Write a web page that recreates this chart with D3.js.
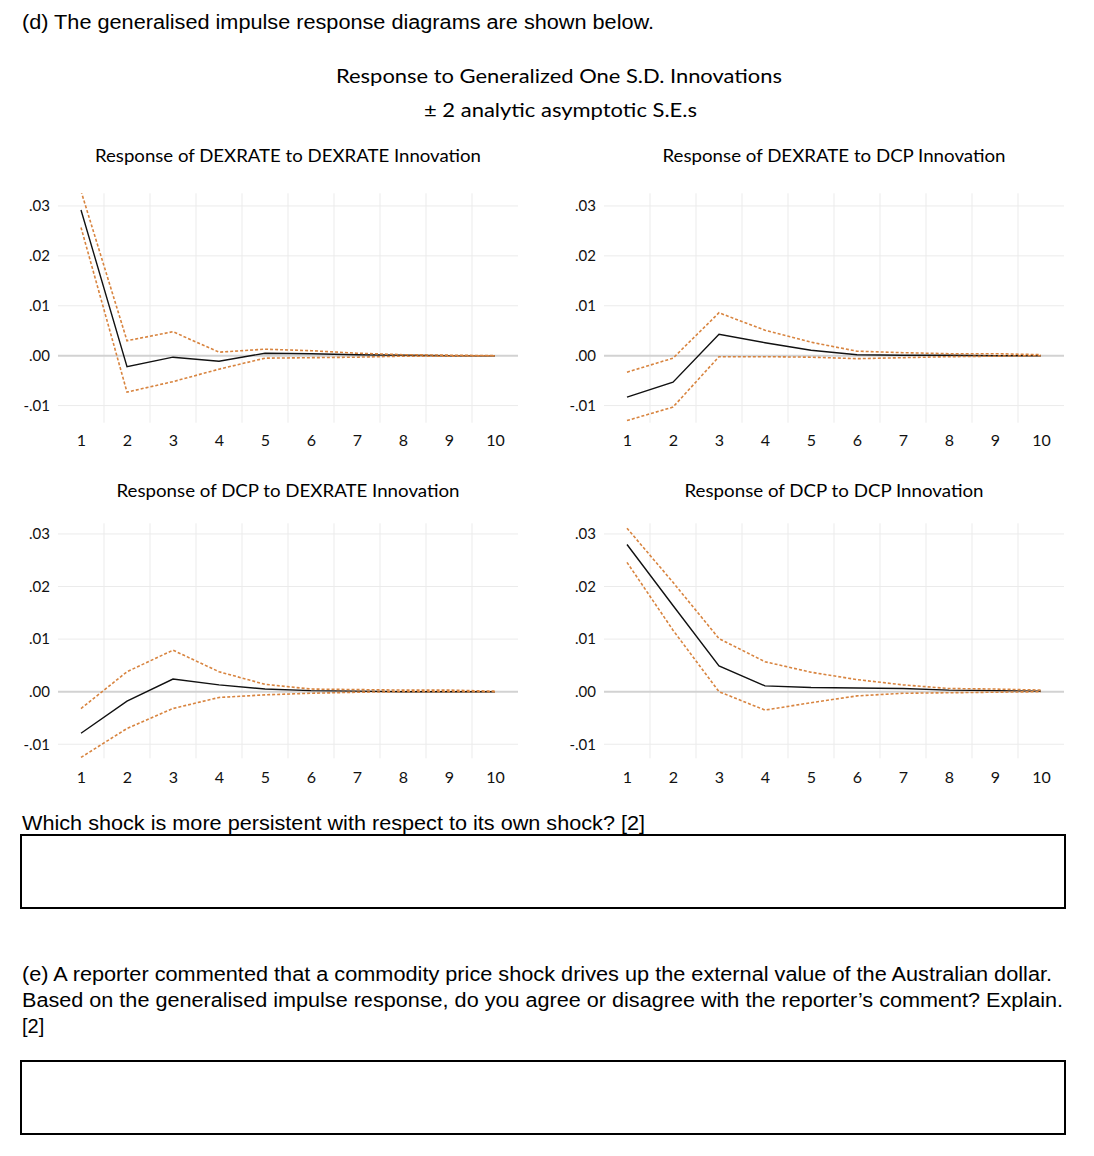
<!DOCTYPE html>
<html><head><meta charset="utf-8">
<script src="https://cdn.jsdelivr.net/npm/d3@7"></script>
<style>body{margin:0;background:#fff}svg{display:block}</style>
</head><body><svg id="c" width="1094" height="1156"></svg>
<script>
// ---------- data ----------
const horizons = [1,2,3,4,5,6,7,8,9,10];
const yTickValues = [-0.01, 0, 0.01, 0.02, 0.03];
const yTickLabels = ["-.01", ".00", ".01", ".02", ".03"];
const panelTitles = [
  "Response of DEXRATE to DEXRATE Innovation",
  "Response of DEXRATE to DCP Innovation",
  "Response of DCP to DEXRATE Innovation",
  "Response of DCP to DCP Innovation"
];
const mainTitle = "Response to Generalized One S.D. Innovations";
const subTitle = "\u00B1 2 analytic asymptotic S.E.s";

const exExResp  = [0.0292,-0.0022,-0.0003,-0.0011,0.0005,0.0004,0.0002,0.0001,0.0000,0.0000];
const exExUpper = [0.0330,0.0030,0.0048,0.0007,0.0013,0.0010,0.0005,0.0002,0.0001,0.0000];
const exExLower = [0.0257,-0.0073,-0.0052,-0.0027,-0.0005,-0.0004,-0.0003,-0.0001,-0.0001,0.0000];

const exCpResp  = [-0.0083,-0.0053,0.0043,0.0026,0.0011,0.0002,0.0001,0.0001,0.0000,0.0000];
const exCpUpper = [-0.0033,-0.0005,0.0086,0.0051,0.0027,0.0009,0.0006,0.0004,0.0004,0.0002];
const exCpLower = [-0.0130,-0.0103,-0.0002,-0.0002,-0.0003,-0.0006,-0.0004,-0.0002,-0.0001,0.0000];

const cpExResp  = [-0.0079,-0.0018,0.0024,0.0013,0.0005,0.0002,0.0001,0.0000,0.0000,0.0000];
const cpExUpper = [-0.0032,0.0038,0.0079,0.0038,0.0014,0.0005,0.0004,0.0003,0.0003,0.0001];
const cpExLower = [-0.0125,-0.0070,-0.0032,-0.0011,-0.0006,-0.0003,-0.0001,0.0000,0.0000,0.0000];

const cpCpResp  = [0.0280,0.0164,0.0049,0.0011,0.0008,0.0007,0.0006,0.0003,0.0002,0.0001];
const cpCpUpper = [0.0311,0.0208,0.0101,0.0057,0.0037,0.0023,0.0013,0.0006,0.0005,0.0003];
const cpCpLower = [0.0246,0.0117,0.0000,-0.0035,-0.0021,-0.0008,-0.0003,-0.0002,-0.0001,0.0000];

const questionD = "(d) The generalised impulse response diagrams are shown below.";
const questionPersist = "Which shock is more persistent with respect to its own shock? [2]";
const questionE = [
  "(e) A reporter commented that a commodity price shock drives up the external value of the Australian dollar.",
  "Based on the generalised impulse response, do you agree or disagree with the reporter\u2019s comment? Explain.",
  "[2]"
];

// ---------- layout ----------
const svg = d3.select("#c");
const ORANGE = "#d8843f";
const row1 = {y0:193.3, y1:422.7, dom:[-0.01343, 0.03254], titleY:155, labY:439.5};
const row2 = {y0:523.3, y1:758.3, dom:[-0.01267, 0.03203], titleY:490, labY:776};
const col1 = {x0:58, x1:518};
const col2 = {x0:604, x1:1064};
const panels = [
  {c:col1, r:row1, title:panelTitles[0], resp:exExResp, up:exExUpper, lo:exExLower},
  {c:col2, r:row1, title:panelTitles[1], resp:exCpResp, up:exCpUpper, lo:exCpLower},
  {c:col1, r:row2, title:panelTitles[2], resp:cpExResp, up:cpExUpper, lo:cpExLower},
  {c:col2, r:row2, title:panelTitles[3], resp:cpCpResp, up:cpCpUpper, lo:cpCpLower}
];

function txt(x, y, s, opts) {
  const t = svg.append("text").attr("x", x).attr("y", y).text(s)
    .attr("font-family", opts.font || "Liberation Sans, Arial, sans-serif")
    .attr("font-size", opts.size || 20)
    .attr("fill", "#000")
    .attr("text-anchor", opts.anchor || "start")
    .attr("dominant-baseline", "central");
  if (opts.len) t.attr("textLength", opts.len).attr("lengthAdjust", "spacingAndGlyphs");
  return t;
}

const CAL = "Lato, 'Open Sans', sans-serif";
txt(22, 22, questionD, {size:20, len:632});
txt(559, 75, mainTitle, {font:CAL, size:19.5, anchor:"middle", len:446});
txt(560.5, 109, subTitle, {font:CAL, size:19.5, anchor:"middle", len:273});

panels.forEach((p, i) => {
  const x = d3.scaleLinear().domain([0.5, 10.5]).range([p.c.x0, p.c.x1]);
  const y = d3.scaleLinear().domain(p.r.dom).range([p.r.y1, p.r.y0]);
  const g = svg.append("g");
  const cid = "clip" + i;
  svg.append("clipPath").attr("id", cid).append("rect")
    .attr("x", p.c.x0).attr("y", p.r.y0)
    .attr("width", p.c.x1 - p.c.x0).attr("height", p.r.y1 - p.r.y0);

  // vertical gridlines at band boundaries
  g.selectAll(".vg").data(horizons.slice(0, 9)).enter().append("line")
    .attr("x1", d => x(d + 0.5)).attr("x2", d => x(d + 0.5))
    .attr("y1", p.r.y0).attr("y2", p.r.y1)
    .attr("stroke", "#ebebeb").attr("stroke-width", 1);
  // horizontal gridlines
  g.selectAll(".hg").data(yTickValues.filter(v => v !== 0)).enter().append("line")
    .attr("x1", p.c.x0).attr("x2", p.c.x1)
    .attr("y1", d => y(d)).attr("y2", d => y(d))
    .attr("stroke", "#ebebeb").attr("stroke-width", 1);
  // zero line
  g.append("line").attr("x1", p.c.x0).attr("x2", p.c.x1)
    .attr("y1", y(0)).attr("y2", y(0))
    .attr("stroke", "#d2d2d2").attr("stroke-width", 2);

  // axes
  const ya = d3.axisLeft(y).tickValues(yTickValues)
    .tickFormat((d, k) => yTickLabels[k]).tickSize(0).tickPadding(8);
  const yg = svg.append("g").attr("transform", `translate(${p.c.x0},0)`).call(ya);
  yg.select(".domain").remove();
  yg.selectAll("text").attr("font-family", CAL).attr("font-size", 15).attr("fill", "#111");

  const xa = d3.axisBottom(x).tickValues(horizons).tickSize(0).tickPadding(0);
  const xg = svg.append("g").attr("transform", `translate(0,${p.r.labY})`).call(xa);
  xg.select(".domain").remove();
  xg.selectAll("text").attr("font-family", CAL).attr("font-size", 16).attr("fill", "#111")
    .attr("dy", null).attr("dominant-baseline", "central");

  // title
  txt((p.c.x0 + p.c.x1) / 2, p.r.titleY, p.title, {font:CAL, size:18, anchor:"middle",
    len: [386, 343, 343, 299][i]});

  const line = d3.line().x((d, k) => x(horizons[k])).y(d => y(d));
  const lg = svg.append("g").attr("clip-path", `url(#${cid})`);
  lg.append("path").attr("d", line(p.resp)).attr("fill", "none")
    .attr("stroke", "#111").attr("stroke-width", 1.4);
  [p.up, p.lo].forEach(s => {
    lg.append("path").attr("d", line(s)).attr("fill", "none")
      .attr("stroke", ORANGE).attr("stroke-width", 1.6)
      .attr("stroke-dasharray", "3,2");
  });
});

txt(22, 823, questionPersist, {size:20, len:623});
svg.append("rect").attr("x", 21).attr("y", 835).attr("width", 1044).attr("height", 73)
  .attr("fill", "none").attr("stroke", "#000").attr("stroke-width", 2);

const eLens = [1030, 1041, null];
questionE.forEach((s, k) => {
  txt(22, 974 + k * 26, s, {size:20, len:eLens[k]});
});
svg.append("rect").attr("x", 21).attr("y", 1061).attr("width", 1044).attr("height", 73)
  .attr("fill", "none").attr("stroke", "#000").attr("stroke-width", 2);
</script></body></html>
